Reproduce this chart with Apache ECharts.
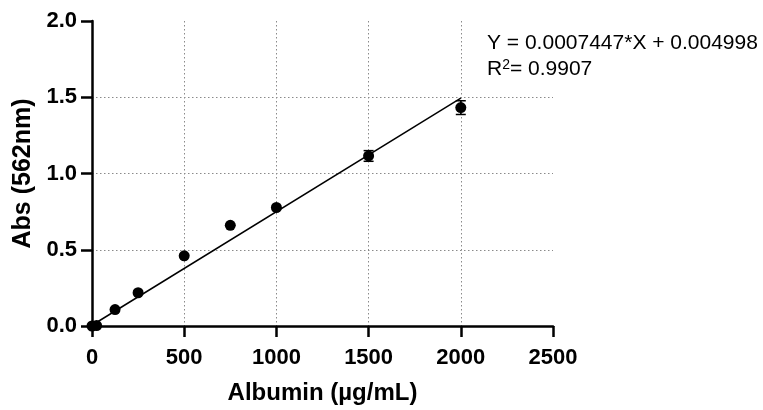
<!DOCTYPE html>
<html>
<head>
<meta charset="utf-8">
<script src="https://cdn.jsdelivr.net/npm/echarts@6/dist/echarts.min.js"></script>
<style>
  html, body { margin: 0; padding: 0; background: #fff; }
  #chart { width: 763px; height: 410px; }
</style>
</head>
<body>
<div id="chart"></div>
<script>
  // albumin standard curve
  var albumin = [0, 25, 125, 250, 500, 750, 1000, 1500, 2000];
  var absMean = [0.0, 0.003, 0.108, 0.218, 0.46, 0.66, 0.777, 1.115, 1.432];
  var absErr = [0, 0, 0, 0, 0, 0, 0, 0.035, 0.045];
  // linear fit endpoints (from Y = 0.0007447*X + 0.004998)
  var fitX = [0, 2000];
  var fitY = [0.005, 1.4944];
  var eqText = 'Y = 0.0007447*X + 0.004998';
  var r2Text = '0.9907';

  var font = '"Liberation Sans", Arial, Helvetica, sans-serif';

  var points = albumin.map(function (x, i) { return [x, absMean[i]]; });
  var bars = albumin.map(function (x, i) {
    return [x, absMean[i] - absErr[i], absMean[i] + absErr[i]];
  }).filter(function (d) { return d[2] - d[1] > 0; });
  var fit = fitX.map(function (x, i) { return [x, fitY[i]]; });

  var chart = echarts.init(document.getElementById('chart'));

  var option = {
    animation: false,
    backgroundColor: '#fff',
    grid: { left: 92, right: 210, top: 21, bottom: 83 },
    xAxis: {
      type: 'value',
      min: 0,
      max: 2500,
      interval: 500,
      name: 'Albumin (µg/mL)',
      nameLocation: 'middle',
      nameGap: 55,
      nameTextStyle: { color: '#000', fontSize: 24, fontWeight: 'bold', fontFamily: font },
      axisLine: { show: true, onZero: false, lineStyle: { color: '#000', width: 2.5 } },
      axisTick: { show: true, length: 11, lineStyle: { color: '#000', width: 2.5 } },
      axisLabel: {
        color: '#000', fontSize: 22, fontWeight: 'bold', fontFamily: font, margin: 21,
        formatter: function (v) { return String(v); }
      },
      splitLine: {
        show: true, showMinLine: false, showMaxLine: false,
        lineStyle: { color: '#8a8a8a', type: [1.5, 2.5], width: 1 }
      }
    },
    yAxis: {
      type: 'value',
      min: 0,
      max: 2,
      interval: 0.5,
      name: 'Abs (562nm)',
      nameLocation: 'middle',
      nameGap: 55,
      nameTextStyle: { color: '#000', fontSize: 25, fontWeight: 'bold', fontFamily: font },
      axisLine: { show: true, onZero: false, lineStyle: { color: '#000', width: 2.5 } },
      axisTick: { show: true, length: 11, lineStyle: { color: '#000', width: 2.5 } },
      axisLabel: {
        color: '#000', fontSize: 22, fontWeight: 'bold', fontFamily: font, margin: 15,
        formatter: function (v) { return v.toFixed(1); }
      },
      splitLine: {
        show: true, showMinLine: false, showMaxLine: false,
        lineStyle: { color: '#8a8a8a', type: [1.5, 2.5], width: 1 }
      }
    },
    graphic: [
      {
        type: 'text', left: 487, top: 33,
        style: { text: eqText, fill: '#000', font: '21px ' + font }
      },
      {
        type: 'text', left: 487, top: 58,
        style: {
          text: '{r|R}{s|2}{r|= ' + r2Text + '}',
          rich: {
            r: { fill: '#000', fontSize: 21, fontFamily: font, verticalAlign: 'bottom' },
            s: { fill: '#000', fontSize: 14, fontFamily: font, verticalAlign: 'top', padding: [0, 0, 8, 0] }
          }
        }
      }
    ],
    series: [
      {
        type: 'line',
        data: fit,
        symbol: 'none',
        lineStyle: { color: '#000', width: 1.5 },
        z: 3
      },
      {
        type: 'custom',
        data: bars,
        renderItem: function (params, api) {
          var lo = api.coord([api.value(0), api.value(1)]);
          var hi = api.coord([api.value(0), api.value(2)]);
          var w = 5;
          var st = { stroke: '#000', lineWidth: 1.5 };
          return {
            type: 'group',
            children: [
              { type: 'line', shape: { x1: lo[0], y1: lo[1], x2: hi[0], y2: hi[1] }, style: st },
              { type: 'line', shape: { x1: lo[0] - w, y1: lo[1], x2: lo[0] + w, y2: lo[1] }, style: st },
              { type: 'line', shape: { x1: hi[0] - w, y1: hi[1], x2: hi[0] + w, y2: hi[1] }, style: st }
            ]
          };
        },
        z: 4
      },
      {
        type: 'scatter',
        data: points,
        symbol: 'circle',
        symbolSize: 11,
        itemStyle: { color: '#000', opacity: 1 },
        z: 5
      }
    ]
  };

  chart.setOption(option);
</script>
</body>
</html>
